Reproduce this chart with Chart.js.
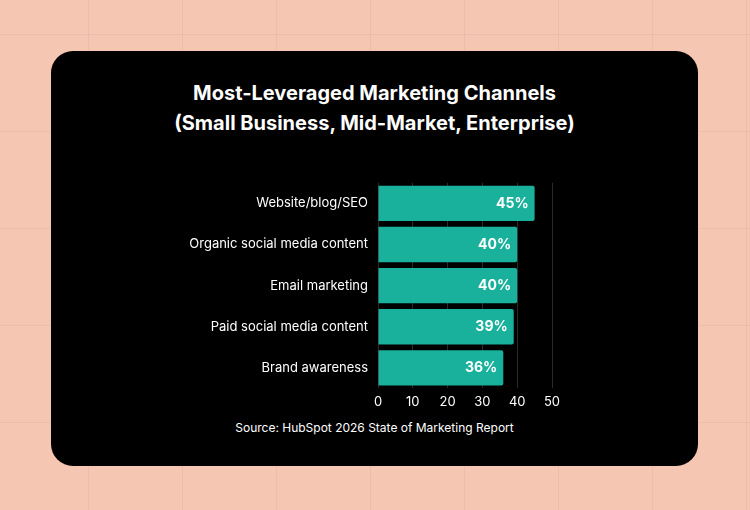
<!DOCTYPE html>
<html>
<head>
<meta charset="utf-8">
<script src="https://cdn.jsdelivr.net/npm/chart.js@4/dist/chart.umd.min.js"></script>
<style>
  html, body { margin: 0; padding: 0; }
  body {
    width: 750px; height: 510px; position: relative; overflow: hidden;
    background-color: #f5c6b2;
    background-image:
      linear-gradient(to right, rgba(220,150,150,0.22) 1px, transparent 1px),
      linear-gradient(to bottom, rgba(220,150,150,0.22) 1px, transparent 1px);
    background-size: 94px 97px;
    background-position: -6px 34px;
    font-family: Inter, "Noto Sans", sans-serif;
  }
  .card {
    position: absolute; left: 51px; top: 51px; width: 647px; height: 415px;
    background: #000; border-radius: 22px;
  }
  .title {
    position: absolute; left: 0; right: 0; top: 27px; text-align: center;
    color: #fff; font-weight: 700; font-size: 20px; line-height: 30px;
  }
  .source {
    position: absolute; left: 0; right: 0; top: 369px; text-align: center;
    color: #fff; font-size: 12px;
  }
  .wrap { position: absolute; left: 0; top: 122px; width: 647px; height: 243px; }
</style>
</head>
<body>
<div class="card">
  <div class="title">Most-Leveraged Marketing Channels<br>(Small Business, Mid-Market, Enterprise)</div>
  <div class="wrap"><canvas id="chart"></canvas></div>
  <div class="source">Source: HubSpot 2026 State of Marketing Report</div>
</div>
<script>
const categories = [
  "Website/blog/SEO",
  "Organic social media content",
  "Email marketing",
  "Paid social media content",
  "Brand awareness",
];
const shares = [45, 40, 40, 39, 36];
const xTicks = [0, 10, 20, 30, 40, 50];

const valueLabels = {
  id: "valueLabels",
  afterDatasetsDraw(chart) {
    const { ctx } = chart;
    const meta = chart.getDatasetMeta(0);
    ctx.save();
    ctx.fillStyle = "#ffffff";
    ctx.font = "bold 14px Inter, 'Noto Sans', sans-serif";
    ctx.textAlign = "right";
    ctx.textBaseline = "middle";
    meta.data.forEach((bar, i) => {
      ctx.fillText(`${shares[i]}%`, bar.x - 6, bar.y);
    });
    ctx.restore();
  },
};

Chart.defaults.font.family = "Inter, 'Noto Sans', sans-serif";

new Chart(document.getElementById("chart"), {
  type: "bar",
  data: {
    labels: categories,
    datasets: [
      {
        data: shares,
        backgroundColor: "#19b09c",
        borderRadius: 2,
        borderSkipped: "start",
        barPercentage: 0.86,
        categoryPercentage: 1,
      },
    ],
  },
  options: {
    indexAxis: "y",
    responsive: true,
    maintainAspectRatio: false,
    animation: false,
    layout: { padding: { top: 1, right: 146, bottom: 0 } },
    plugins: { legend: { display: false }, tooltip: { enabled: false } },
    scales: {
      x: {
        min: 0,
        max: 50,
        afterBuildTicks: (axis) => {
          axis.ticks = xTicks.map((value) => ({ value }));
        },
        ticks: { color: "#ffffff", font: { size: 13 }, padding: 6 },
        grid: { color: "#2a2a2a", drawTicks: false },
        border: { display: false },
      },
      y: {
        afterFit: (axis) => { axis.width = 327; },
        ticks: { color: "#ffffff", font: { size: 13 }, padding: 2 },
        grid: { display: false },
        border: { display: false },
      },
    },
  },
  plugins: [valueLabels],
});
</script>
</body>
</html>
